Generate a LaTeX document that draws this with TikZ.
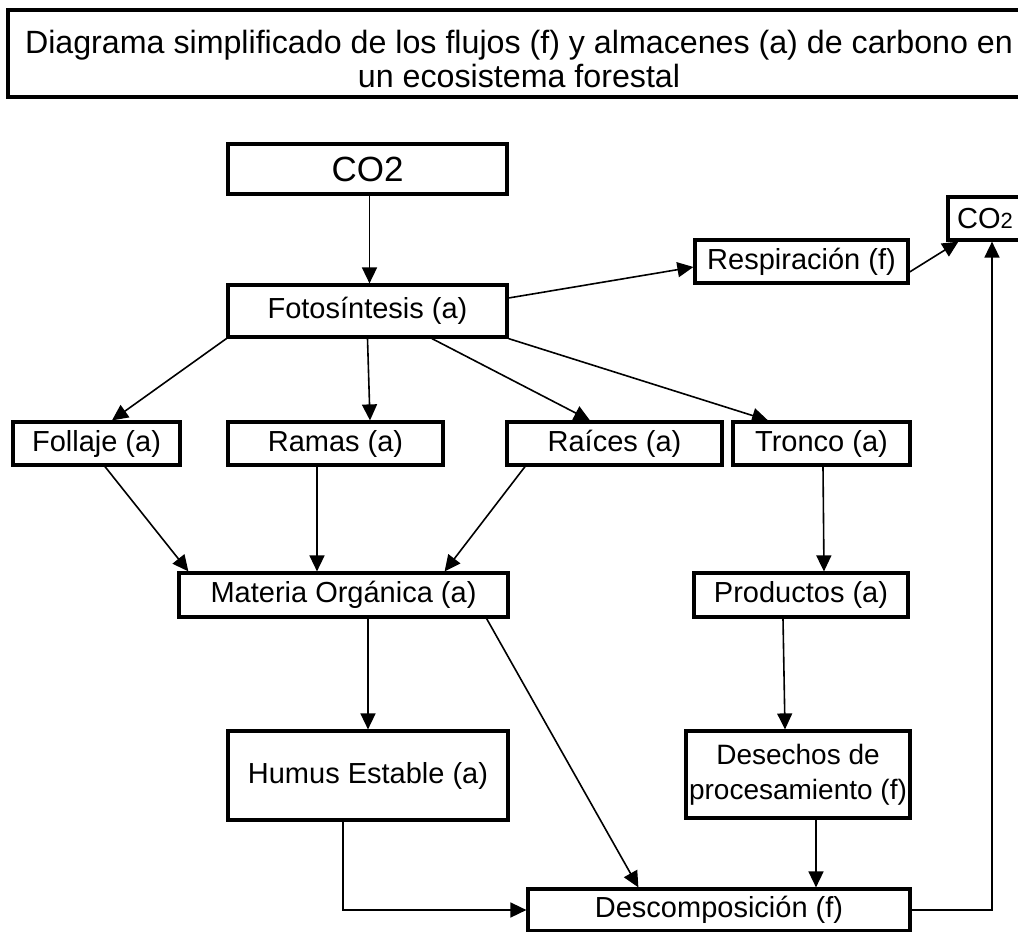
\documentclass[tikz,border=0pt]{standalone}
\usepackage{fontspec}
\setmainfont{Liberation Sans}
\usetikzlibrary{arrows.meta}
\begin{document}
\begin{tikzpicture}[x=1pt,y=-1pt,
  box/.style={draw=black,line width=3.2pt,inner sep=0pt,align=center,
    font=\fontsize{29}{34}\selectfont},
  conn/.style={line width=1.6pt,-{Triangle[length=16pt,width=15pt]}},
  plain/.style={line width=1.6pt}]
\useasboundingbox (0,0) rectangle (1018,932);
% title
\node[box,minimum width=1022pt,minimum height=87pt,
  label={[font=\fontsize{32.2}{34}\selectfont,align=center,yshift=-5pt]center:{Diagrama simplificado de los flujos (f) y almacenes (a) de carbono en\\un ecosistema forestal}}] (title) at (519,53.5) {};
% boxes
\node[box,minimum width=279pt,minimum height=50pt,font=\fontsize{35}{40}\selectfont] (co2a) at (367.5,169) {CO2};
\node[box,minimum width=74pt,minimum height=43pt] (co2b) at (985,218.5) {CO{\fontsize{22}{26}\selectfont 2}};
\node[box,minimum width=213pt,minimum height=43pt] (resp) at (801.5,261.5) {Respiración (f)};
\node[box,minimum width=279pt,minimum height=52pt] (foto) at (367.5,311) {Fotosíntesis (a)};
\node[box,minimum width=167pt,minimum height=43pt] (follaje) at (96.5,443.5) {Follaje (a)};
\node[box,minimum width=215pt,minimum height=43pt] (ramas) at (335.5,443.5) {Ramas (a)};
\node[box,minimum width=215pt,minimum height=43pt] (raices) at (614.5,443.5) {Raíces (a)};
\node[box,minimum width=177pt,minimum height=43pt] (tronco) at (821.5,443.5) {Tronco (a)};
\node[box,minimum width=329pt,minimum height=44pt] (materia) at (343.5,595) {Materia Orgánica (a)};
\node[box,minimum width=214pt,minimum height=44pt] (productos) at (801,595) {Productos (a)};
\node[box,minimum width=280pt,minimum height=89pt] (humus) at (368,775.5) {Humus Estable (a)};
\node[box,minimum width=224pt,minimum height=87pt,font=\fontsize{28}{35}\selectfont] (desechos) at (798,774.5) {Desechos de\\procesamiento (f)};
\node[box,minimum width=382pt,minimum height=42pt] (descomp) at (719,910) {Descomposición (f)};
% connectors
\draw[conn] ([xshift=2pt]co2a.south) -- ([xshift=2pt]foto.north);
\draw[conn] ([yshift=13pt]foto.east) -- ([yshift=-5.5pt]resp.west);
\draw[conn] ([yshift=-10.5pt]resp.east) -- ([xshift=12pt]co2b.south west);
\draw[conn] (foto.south west) -- ([xshift=15.5pt]follaje.north);
\draw[conn] (foto.south) -- ([xshift=34.5pt]ramas.north);
\draw[conn] ([xshift=64.5pt]foto.south) -- ([xshift=-24.5pt]raices.north);
\draw[conn] (foto.south east) -- ([xshift=-53.5pt]tronco.north);
\draw[conn] ([xshift=8.5pt]follaje.south) -- ([xshift=11pt]materia.north west);
\draw[conn] ([xshift=-18.5pt]ramas.south) -- ([xshift=-26.5pt]materia.north);
\draw[conn] ([xshift=-89.5pt]raices.south) -- ([xshift=-65pt]materia.north east);
\draw[conn] ([xshift=1.5pt]tronco.south) -- ([xshift=23pt]productos.north);
\draw[conn] ([xshift=24.5pt]materia.south) -- (humus.north);
\draw[conn] ([xshift=-23pt]materia.south east) -- ([xshift=112pt]descomp.north west);
\draw[conn] ([xshift=-18pt]productos.south) -- ([xshift=-13pt]desechos.north);
\draw[conn] ([xshift=18pt]desechos.south) -- ([xshift=97pt]descomp.north);
\draw[conn] ([xshift=-25pt]humus.south) |- (descomp.west);
\draw[conn] (descomp.east) -| ([xshift=7pt]co2b.south);
\end{tikzpicture}
\end{document}
